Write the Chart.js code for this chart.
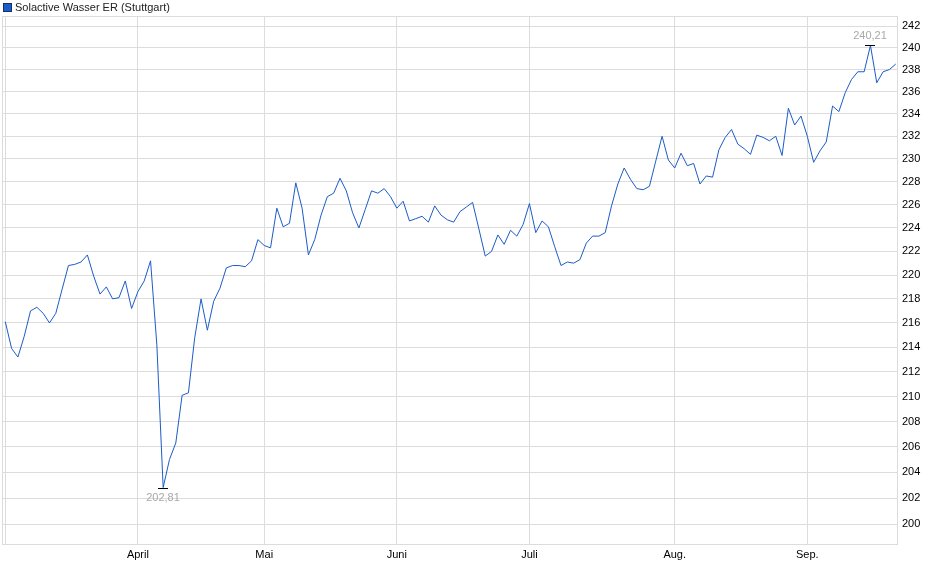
<!DOCTYPE html>
<html lang="de">
<head>
<meta charset="UTF-8">
<title>Solactive Wasser ER (Stuttgart)</title>
<style>
    body { margin: 0; background: #fff; }
    .chart-box { width: 940px; height: 579px; position: relative; }
</style>
<script src="https://cdn.jsdelivr.net/npm/chart.js"></script>
</head>
<body>

<div class="chart-box"><canvas id="kursChart" width="940" height="579"></canvas></div>

<script>
    // Daten (Tageskurse)
    const seriesName = 'Solactive Wasser ER (Stuttgart)';
    const monthLabels = ['April', 'Mai', 'Juni', 'Juli', 'Aug.', 'Sep.'];
    const monthStarts = [21, 41, 62, 83, 106, 127];   // Index des ersten Handelstags
    const yTicks = [200, 202, 204, 206, 208, 210, 212, 214, 216, 218, 220,
                    222, 224, 226, 228, 230, 232, 234, 236, 238, 240, 242];
    const values = [
        216.1, 213.9, 213.2, 214.9, 217.0, 217.3, 216.8, 216.0, 216.8, 218.8,
        220.8, 220.9, 221.1, 221.7, 219.9, 218.4, 219.0, 218.0, 218.1, 219.5,
        217.2, 218.6, 219.5, 221.2, 214.2, 202.81, 205.0, 206.3, 210.1, 210.3,
        214.8, 218.0, 215.4, 217.8, 218.9, 220.6, 220.8, 220.8, 220.7, 221.2,
        223.0, 222.5, 222.3, 225.7, 224.1, 224.4, 227.9, 225.7, 221.7, 223.0,
        225.1, 226.7, 227.0, 228.3, 227.2, 225.3, 224.0, 225.6, 227.2, 227.0,
        227.4, 226.7, 225.7, 226.3, 224.6, 224.8, 225.0, 224.5, 225.9, 225.1,
        224.7, 224.5, 225.4, 225.8, 226.2, 223.9, 221.6, 222.0, 223.4, 222.6,
        223.8, 223.3, 224.3, 226.1, 223.6, 224.6, 224.1, 222.4, 220.8, 221.1,
        221.0, 221.3, 222.7, 223.3, 223.3, 223.6, 225.9, 227.8, 229.2, 228.2,
        227.4, 227.3, 227.6, 229.8, 232.0, 229.9, 229.2, 230.5, 229.4, 229.6,
        227.8, 228.5, 228.4, 230.8, 231.9, 232.6, 231.3, 230.9, 230.4, 232.1,
        231.9, 231.6, 232.0, 230.3, 234.5, 233.0, 233.8, 232.0, 229.7, 230.7,
        231.5, 234.7, 234.2, 235.9, 237.1, 237.8, 237.8, 240.21, 236.8, 237.8,
        238.0, 238.5
    ];

    const lineColor = '#1c5cc8';
    const gridColor = '#dcdcdc';
    const fontFamily = '"Liberation Sans", Arial, sans-serif';

    function formatDe(v) {
        return v.toFixed(2).replace('.', ',');
    }

    // Rahmen, Legende und Min/Max-Markierung
    const chartDecor = {
        id: 'chartDecor',
        beforeDraw(chart) {
            const ctx = chart.ctx;
            ctx.save();
            ctx.fillStyle = '#fff';
            ctx.fillRect(0, 0, chart.width, chart.height);
            ctx.restore();
        },
        beforeDatasetsDraw(chart) {
            const { ctx, chartArea: a } = chart;
            ctx.save();
            ctx.strokeStyle = gridColor;
            ctx.lineWidth = 1;
            ctx.strokeRect(a.left + 0.5, a.top + 0.5, a.right - a.left - 1, a.bottom - a.top - 1);
            ctx.restore();
        },
        afterDatasetsDraw(chart) {
            const { ctx, scales: { x, y } } = chart;
            const minIdx = values.indexOf(Math.min(...values));
            const maxIdx = values.indexOf(Math.max(...values));
            ctx.save();
            ctx.font = '11px ' + fontFamily;
            ctx.textAlign = 'center';
            [[minIdx, 1], [maxIdx, -1]].forEach(([i, dir]) => {
                const px = Math.round(x.getPixelForValue(i));
                const py = Math.round(y.getPixelForValue(values[i])) + 0.5;
                ctx.strokeStyle = '#000';
                ctx.lineWidth = 1;
                ctx.beginPath();
                ctx.moveTo(px - 5, py);
                ctx.lineTo(px + 5, py);
                ctx.stroke();
                ctx.fillStyle = '#a8a8a8';
                ctx.textBaseline = dir > 0 ? 'top' : 'bottom';
                ctx.fillText(formatDe(values[i]), px, py + dir * 4);
            });
            ctx.restore();
        },
        afterDraw(chart) {
            const ctx = chart.ctx;
            ctx.save();
            ctx.fillStyle = lineColor;
            ctx.fillRect(4, 4, 7, 7);
            ctx.strokeStyle = '#1a2f66';
            ctx.lineWidth = 1;
            ctx.strokeRect(3.5, 3.5, 8, 8);
            ctx.fillStyle = '#222';
            ctx.font = '11px ' + fontFamily;
            ctx.textBaseline = 'middle';
            ctx.fillText(seriesName, 15, 7.5);
            ctx.restore();
        }
    };

    const ctx = document.getElementById('kursChart').getContext('2d');
    const kursChart = new Chart(ctx, {
        type: 'line',
        data: {
            datasets: [{
                label: seriesName,
                data: values.map((v, i) => ({ x: i, y: v })),
                borderColor: lineColor,
                borderWidth: 1,
                pointRadius: 0,
                tension: 0,
                fill: false
            }]
        },
        options: {
            responsive: false,
            animation: false,
            layout: { padding: { left: 2, top: 16, right: 0, bottom: 0 } },
            plugins: { legend: { display: false }, tooltip: { enabled: false } },
            scales: {
                x: {
                    type: 'linear',
                    min: -0.52,
                    max: 141.36,
                    afterBuildTicks: s => { s.ticks = [0].concat(monthStarts).map(v => ({ value: v })); },
                    afterFit: s => { s.height = 34; },
                    grid: { color: gridColor, drawTicks: false },
                    border: { display: false },
                    ticks: {
                        autoSkip: false,
                        maxRotation: 0,
                        padding: 3,
                        color: '#000',
                        font: { family: fontFamily, size: 11 },
                        callback: v => {
                            const i = monthStarts.indexOf(v);
                            return i < 0 ? '' : monthLabels[i];
                        }
                    }
                },
                y: {
                    type: 'logarithmic',
                    position: 'right',
                    min: 198.4,
                    max: 242.93,
                    afterBuildTicks: s => { s.ticks = yTicks.map(v => ({ value: v })); },
                    afterFit: s => { s.width = 42; },
                    grid: { color: gridColor, drawTicks: false },
                    border: { display: false },
                    ticks: {
                        autoSkip: false,
                        padding: 4,
                        color: '#000',
                        font: { family: fontFamily, size: 11 },
                        callback: v => String(v)
                    }
                }
            }
        },
        plugins: [chartDecor]
    });
</script>

</body>
</html>
